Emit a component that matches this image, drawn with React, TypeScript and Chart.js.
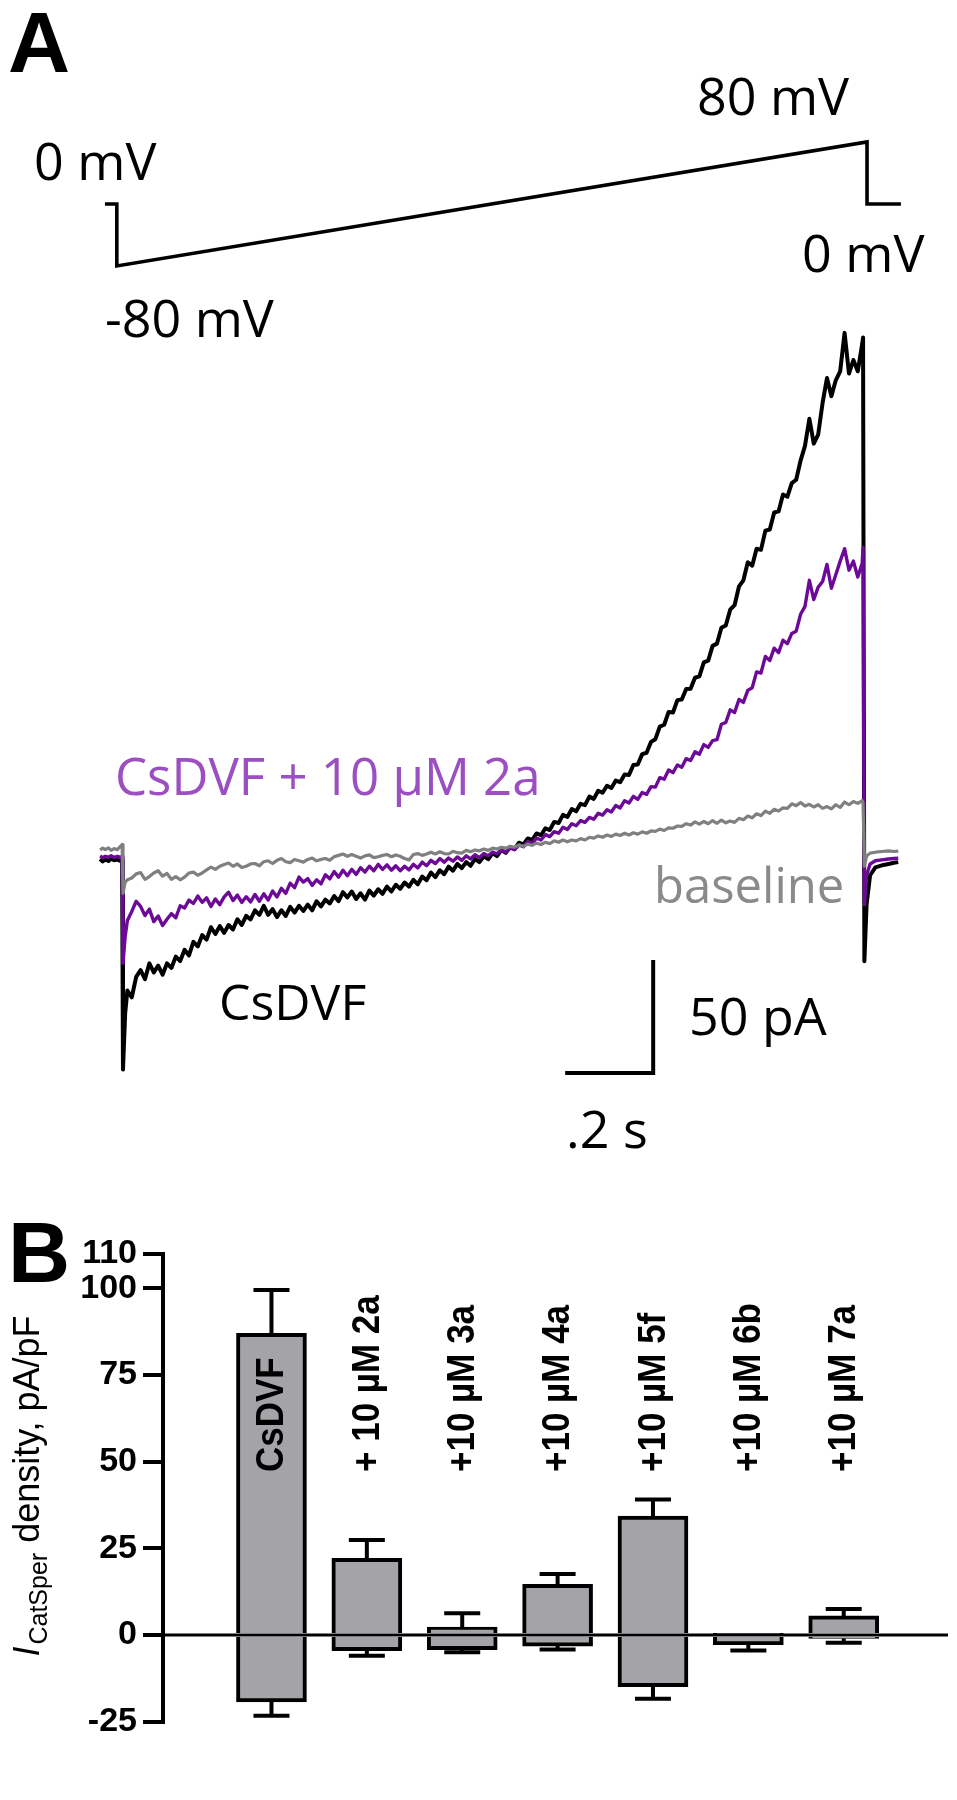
import React, { useEffect, useRef } from "react";
import { Chart, registerables } from "chart.js";
Chart.register(...registerables);

// ---------------- Panel A data (time in ms, current in pA, voltage in mV) ----------------
const protocolTimes = [-41, -14, -14, 1691, 1691, 1768];
const protocolMv = [0, 0, -80, 80, 0, 0];

const preTimes = [-52, -46, -40, -33, -27, -20, -13, -7, -2];
const blackPre = [-1.8, -2.9, -2.0, -2.7, -1.6, -2.4, -2.0, -2.6, -2.2];
const purplePre = [-0.5, -1.2, -0.6, -1.0, -0.4, -1.1, -0.7, -1.0, -0.8];
const greyPre = [2.2, 3.0, 2.4, 3.1, 2.0, 2.8, 2.3, 3.6, 4.6];

const spikeTimes = [0, 5];
const blackSpike = [-95, -70];
const purpleSpike = [-48, -36];
const greySpike = [-17, -12];

const rampTimes = [
  10, 20, 30, 40, 50, 60, 70, 80, 90, 100,
  110, 120, 130, 140, 150, 160, 170, 180, 190, 200,
  210, 220, 230, 240, 250, 260, 270, 280, 290, 300,
  310, 320, 330, 340, 350, 360, 370, 380, 390, 400,
  410, 420, 430, 440, 450, 460, 470, 480, 490, 500,
  510, 520, 530, 540, 550, 560, 570, 580, 590, 600,
  610, 620, 630, 640, 650, 660, 670, 680, 690, 700,
  710, 720, 730, 740, 750, 760, 770, 780, 790, 800,
  810, 820, 830, 840, 850, 860, 870, 880, 890, 900,
  910, 920, 930, 940, 950, 960, 970, 980, 990, 1000,
  1010, 1020, 1030, 1040, 1050, 1060, 1070, 1080, 1090, 1100,
  1110, 1120, 1130, 1140, 1150, 1160, 1170, 1180, 1190, 1200,
  1210, 1220, 1230, 1240, 1250, 1260, 1270, 1280, 1290, 1300,
  1310, 1320, 1330, 1340, 1350, 1360, 1370, 1380, 1390, 1400,
  1410, 1420, 1430, 1440, 1450, 1460, 1470, 1480, 1490, 1500,
  1510, 1520, 1530, 1540, 1550, 1560, 1570, 1580, 1590, 1600,
  1610, 1620, 1630, 1640, 1650, 1660, 1670, 1680,
];
const blackRamp = [
  -60, -63, -54, -51, -55, -48, -52, -49, -53, -48,
  -50, -45, -47, -42, -44.5, -38.5, -40.5, -35.5, -37.5, -32,
  -35, -31.5, -34.5, -31, -33, -28.5, -31, -27, -28.5, -24.5,
  -26.5, -22.5, -26.5, -24, -27.5, -24.5, -27, -23, -25.5, -22.5,
  -24.8, -22, -24.5, -20.5, -22.8, -19.8, -21.5, -18.2, -20.5, -16.5,
  -18.8, -16.2, -19.5, -17.0, -19.8, -15.8, -18.0, -15.2, -17.2, -14.0,
  -16.2, -13.2, -15.0, -12.2, -14.0, -11.0, -13.0, -9.6, -11.2, -7.8,
  -9.8, -6.8, -8.5, -5.2, -7.0, -4.0, -5.8, -3.2, -4.8, -1.8,
  -3.2, -0.6, -1.9, 0.8, -0.5, 2.1, 0.9, 3.4, 2.6, 5.4,
  4.6, 7.3, 6.6, 9.5, 8.7, 11.8, 11.0, 14.6, 14.1, 17.7,
  16.8, 20.3, 19.3, 22.6, 22.0, 25.8, 24.8, 28.4, 27.5, 30.6,
  29.6, 32.9, 32.2, 35.6, 35.4, 39.8, 40.0, 44.6, 45.2, 50.0,
  51.2, 56.8, 57.6, 63.2, 63.0, 68.5, 68.8, 73.4, 73.5, 78.4,
  79.0, 85.2, 86.0, 92.5, 93.5, 100.5, 101.5, 108.5, 110.5, 118.8,
  121.5, 129.5, 128.0, 135.5, 135.0, 143.5, 144.0, 151.5, 152.0, 159.5,
  158.5, 164.5, 166.0, 174.5, 181.0, 193.0, 182.0, 186.0, 200.0, 211.0,
  203.0, 210.0, 214.0, 231.0, 213.0, 219.0, 214.0, 226.0,
];
const purpleRamp = [
  -29.0, -25.0, -20.5, -22.8, -26.8, -24.0, -29.5, -27.0, -31.2, -28.5,
  -26.0, -27.8, -22.5, -23.5, -20.0, -21.5, -18.2, -21.0, -19.0, -22.8,
  -19.5, -22.0, -18.6, -16.5, -20.2, -17.8, -21.0, -18.5, -20.8, -17.5,
  -20.5, -17.2, -20.0, -16.0, -18.6, -14.8, -17.0, -12.5, -14.5, -9.8,
  -12.0, -10.5, -13.5, -11.0, -12.8, -8.8, -10.6, -7.4, -9.8, -6.8,
  -9.2, -6.4, -8.6, -5.6, -7.6, -5.0, -7.0, -4.2, -6.4, -4.4,
  -6.8, -4.8, -7.0, -5.0, -6.6, -4.2, -5.8, -3.2, -4.8, -2.4,
  -3.8, -1.6, -3.2, -1.4, -2.8, -0.9, -2.4, -0.4, -1.8, 0.1,
  -1.2, 0.6, -0.4, 1.3, 0.5, 2.2, 1.2, 3.1, 2.3, 4.4,
  3.6, 5.9, 5.0, 7.5, 6.6, 9.0, 8.1, 10.3, 9.6, 12.2,
  11.2, 13.8, 12.9, 15.2, 14.4, 16.6, 15.8, 18.4, 17.6, 20.0,
  19.0, 21.9, 20.8, 24.0, 23.0, 25.9, 24.6, 27.6, 26.8, 30.2,
  30.0, 34.2, 33.5, 37.6, 36.4, 39.8, 38.8, 42.6, 41.8, 45.6,
  44.6, 48.8, 47.6, 50.6, 51.0, 57.8, 58.6, 64.2, 63.0, 68.8,
  67.5, 72.8, 74.0, 81.0, 80.5, 87.8, 86.0, 91.5, 89.5, 95.0,
  93.5, 98.0, 99.0, 106.5, 110.0, 121.5, 113.0, 118.5, 121.0, 128.5,
  118.0, 124.0, 130.0, 135.5, 126.0, 130.0, 123.0, 129.0,
];
const greyRamp = [
  -11.0, -10.2, -8.4, -7.8, -10.8, -9.6, -8.0, -7.0, -9.4, -8.2,
  -10.8, -9.6, -11.0, -9.8, -8.0, -7.6, -9.0, -8.0, -6.6, -5.4,
  -6.4, -5.0, -4.2, -3.6, -5.0, -4.0, -5.6, -5.0, -4.0, -3.8,
  -4.8, -3.0, -2.6, -3.8, -2.4, -1.6, -3.0, -3.4, -2.0, -2.6,
  -3.2, -2.0, -1.4, -2.6, -2.0, -1.6, -2.4, -0.8, -0.2, 0.4,
  -0.6, 0.2, -0.6, -1.4, -0.4, 0.0, -1.2, -0.8, -0.2, 0.2,
  -0.8, 0.0, -0.6, -1.6, -2.2, 0.2, 0.6, -0.2, 0.4, 1.2,
  0.4, 1.4, 0.6, 0.4, 1.6, 1.0, 0.8, 2.0, 1.4, 2.2,
  1.8, 2.6, 2.0, 3.0, 2.6, 3.4, 3.0, 3.8, 3.4, 4.4,
  3.8, 4.8, 4.2, 5.2, 4.6, 5.6, 5.0, 6.2, 5.6, 6.6,
  5.8, 6.6, 6.2, 7.2, 6.6, 7.8, 7.4, 8.4, 7.8, 8.8,
  8.2, 9.2, 8.6, 9.6, 8.8, 9.8, 9.2, 10.2, 9.6, 10.6,
  10.4, 11.4, 10.8, 12.0, 11.8, 12.8, 12.6, 13.8, 13.2, 14.6,
  13.6, 14.8, 13.8, 15.2, 14.0, 15.4, 14.2, 15.0, 14.4, 16.2,
  15.6, 17.2, 16.4, 18.2, 17.4, 19.4, 18.4, 20.2, 19.4, 20.8,
  20.6, 22.6, 21.8, 23.2, 21.6, 22.4, 21.2, 22.2, 20.6, 21.4,
  20.4, 22.2, 21.0, 23.4, 22.2, 23.6, 22.8, 24.0,
];

const postTimes = [1682, 1685, 1690, 1698, 1710, 1725, 1740, 1752, 1762];
const blackPost = [229, -47, -22, -9, -5.5, -4.6, -4.0, -3.5, -3.2];
const purplePost = [136, -22, -9, -4, -2.6, -2.2, -1.8, -1.6, -1.4];
const greyPost = [23, -5, -0.5, 0.8, 1.2, 1.5, 1.8, 1.5, 1.7];

// scale bar sizes
const SCALE_BAR_MS = 200;
const SCALE_BAR_PA = 50;

// ---------------- Panel B data ----------------
const conditions = ["CsDVF", "+ 10 µM 2a", "+10 µM 3a", "+10 µM 4a", "+10 µM 5f", "+10 µM 6b", "+10 µM 7a"];
const outwardMean = [87, 22.1, 2.3, 14.6, 34.3, 0.4, 5.5];
const outwardSem = [12.5, 5.3, 4.0, 3.0, 4.8, 0, 2.0];
const inwardMean = [-19.3, -4.5, -4.2, -3.2, -14.9, -2.8, -1.0];
const inwardSem = [4.0, 1.5, 0.8, 1.0, 3.5, 1.7, 1.2];
const yTicks = [-25, 0, 25, 50, 75, 100, 110];
const LABEL_START = 47;

// ---------------- styles ----------------
const PURPLE = "#6c0a97";
const PURPLE_TEXT = "#9b4fc0";
const GREY = "#808080";
const GREY_TEXT = "#8a8a8a";
const BAR_FILL = "#a3a3a8";

const CANVAS_W = 957;
const A_H = 1200;
const B_H = 600;

function pts(times: number[], vals: number[]) {
  return times.map((t, i) => ({ x: t, y: vals[i] }));
}

function trace(pre: number[], spike: number[], ramp: number[], post: number[]) {
  return [...pts(preTimes, pre), ...pts(spikeTimes, spike), ...pts(rampTimes, ramp), ...pts(postTimes, post)];
}

export default function App() {
  const refA = useRef<HTMLCanvasElement | null>(null);
  const refB = useRef<HTMLCanvasElement | null>(null);

  useEffect(() => {
    const textPluginA = {
      id: "panelAText",
      afterDraw(chart: any) {
        const ctx = chart.ctx;
        ctx.save();
        ctx.textAlign = "left";
        ctx.textBaseline = "alphabetic";
        ctx.fillStyle = "#000";
        ctx.font = 'bold 86px "Liberation Sans"';
        ctx.fillText("A", 8, 72);
        ctx.font = '52px "Open Sans"';
        ctx.fillText("0 mV", 34, 180);
        ctx.fillText("-80 mV", 105, 337);
        ctx.fillText("80 mV", 697, 115);
        ctx.fillText("0 mV", 802, 272);
        ctx.font = '51px "Open Sans"';
        ctx.fillStyle = PURPLE_TEXT;
        ctx.fillText("CsDVF + 10 µM 2a", 115, 795);
        ctx.fillStyle = "#000";
        ctx.font = '50px "Open Sans"';
        ctx.fillText("CsDVF", 219, 1020);
        ctx.fillStyle = GREY_TEXT;
        ctx.font = '49px "Open Sans"';
        ctx.fillText("baseline", 654, 903);
        ctx.fillStyle = "#000";
        ctx.font = '52px "Open Sans"';
        ctx.fillText("50 pA", 689, 1035);
        ctx.fillText(".2 s", 566, 1148);

        const xs = chart.scales.x;
        const ys = chart.scales.y;
        const cornerT = 1205;
        const cornerI = -96.5;
        const cx = xs.getPixelForValue(cornerT);
        const cy = ys.getPixelForValue(cornerI);
        const x0 = xs.getPixelForValue(cornerT - SCALE_BAR_MS);
        const y1 = ys.getPixelForValue(cornerI + SCALE_BAR_PA);
        ctx.strokeStyle = "#000";
        ctx.lineWidth = 4;
        ctx.lineJoin = "miter";
        ctx.beginPath();
        ctx.moveTo(x0, cy);
        ctx.lineTo(cx, cy);
        ctx.lineTo(cx, y1);
        ctx.stroke();
        ctx.restore();
      },
    };

    const chartA = new Chart(refA.current as HTMLCanvasElement, {
      type: "line",
      data: {
        datasets: [
          {
            label: "Voltage protocol",
            data: pts(protocolTimes, protocolMv),
            yAxisID: "yv",
            borderColor: "#000",
            borderWidth: 3.6,
            borderJoinStyle: "miter",
          },
          {
            label: "baseline",
            data: trace(greyPre, greySpike, greyRamp, greyPost),
            yAxisID: "y",
            borderColor: GREY,
            borderWidth: 3.2,
          },
          {
            label: "CsDVF + 10 µM 2a",
            data: trace(purplePre, purpleSpike, purpleRamp, purplePost),
            yAxisID: "y",
            borderColor: PURPLE,
            borderWidth: 3.4,
          },
          {
            label: "CsDVF",
            data: trace(blackPre, blackSpike, blackRamp, blackPost),
            yAxisID: "y",
            borderColor: "#000",
            borderWidth: 4,
          },
        ],
      },
      options: {
        responsive: false,
        animation: false,
        devicePixelRatio: 1,
        layout: { padding: 0 },
        elements: {
          point: { radius: 0, hoverRadius: 0 },
          line: { tension: 0, borderJoinStyle: "round", borderCapStyle: "butt" },
        },
        plugins: { legend: { display: false }, tooltip: { enabled: false } },
        scales: {
          x: { type: "linear", display: false, min: -279.5, max: 1895.5 },
          y: { type: "linear", display: false, min: -152.7, max: 378.3 },
          yv: { type: "linear", display: false, min: -1285.2, max: 263.2 },
        },
      },
      plugins: [textPluginA],
    } as any);

    const pluginB = {
      id: "panelBExtras",
      afterDatasetsDraw(chart: any) {
        const ctx = chart.ctx;
        const xs = chart.scales.x;
        const ys = chart.scales.y;
        const area = chart.chartArea;
        ctx.save();
        ctx.strokeStyle = "#000";
        ctx.lineWidth = 4;
        ctx.lineCap = "butt";
        conditions.forEach((_, i) => {
          const cx = xs.getPixelForValue(i);
          const half = 18;
          if (outwardSem[i] > 0) {
            const yb = ys.getPixelForValue(outwardMean[i]);
            const yt = ys.getPixelForValue(outwardMean[i] + outwardSem[i]);
            ctx.beginPath();
            ctx.moveTo(cx, yb);
            ctx.lineTo(cx, yt);
            ctx.moveTo(cx - half, yt);
            ctx.lineTo(cx + half, yt);
            ctx.stroke();
          }
          if (inwardSem[i] > 0) {
            const yb = ys.getPixelForValue(inwardMean[i]);
            const yt = ys.getPixelForValue(inwardMean[i] - inwardSem[i]);
            ctx.beginPath();
            ctx.moveTo(cx, yb);
            ctx.lineTo(cx, yt);
            ctx.moveTo(cx - half, yt);
            ctx.lineTo(cx + half, yt);
            ctx.stroke();
          }
        });
        // zero line
        const y0 = ys.getPixelForValue(0);
        ctx.lineWidth = 3;
        ctx.beginPath();
        ctx.moveTo(area.left, y0);
        ctx.lineTo(area.right, y0);
        ctx.stroke();
        // condition labels (rotated, reading upward)
        ctx.fillStyle = "#000";
        ctx.font = 'bold 35px "Liberation Sans"';
        ctx.textAlign = "left";
        ctx.textBaseline = "middle";
        conditions.forEach((lab, i) => {
          ctx.save();
          ctx.translate(xs.getPixelForValue(i), ys.getPixelForValue(LABEL_START));
          ctx.rotate(-Math.PI / 2);
          ctx.scale(1, 1.1);
          ctx.fillText(lab, 0, 1);
          ctx.restore();
        });
        ctx.restore();
      },
      afterDraw(chart: any) {
        const ctx = chart.ctx;
        ctx.save();
        ctx.fillStyle = "#000";
        ctx.textBaseline = "alphabetic";
        ctx.textAlign = "left";
        ctx.font = 'bold 86px "Liberation Sans"';
        ctx.fillText("B", 8, 82);
        // y title with italic I and subscript
        const f1 = 'italic 36px "Liberation Sans"';
        const f2 = '25px "Liberation Sans"';
        const f3 = '36px "Liberation Sans"';
        const s1 = "I";
        const s2 = "CatSper";
        const s3 = " density, pA/pF";
        ctx.font = f1;
        const w1 = ctx.measureText(s1).width;
        ctx.font = f2;
        const w2 = ctx.measureText(s2).width;
        ctx.font = f3;
        const w3 = ctx.measureText(s3).width;
        ctx.translate(39, 287);
        ctx.rotate(-Math.PI / 2);
        let x = -(w1 + w2 + w3) / 2;
        ctx.font = f1;
        ctx.fillText(s1, x, 0);
        x += w1 + 2;
        ctx.font = f2;
        ctx.fillText(s2, x, 8);
        x += w2;
        ctx.font = f3;
        ctx.fillText(s3, x, 0);
        ctx.restore();
      },
    };

    const barCommon = {
      backgroundColor: BAR_FILL,
      borderColor: "#000",
      borderWidth: 4,
      borderSkipped: "start",
      barThickness: 70,
      grouped: false,
    };

    const chartB = new Chart(refB.current as HTMLCanvasElement, {
      type: "bar",
      data: {
        datasets: [
          { label: "outward", data: pts(conditions.map((_, i) => i), outwardMean), ...barCommon },
          { label: "inward", data: pts(conditions.map((_, i) => i), inwardMean), ...barCommon },
        ],
      },
      options: {
        responsive: false,
        animation: false,
        devicePixelRatio: 1,
        layout: { padding: { left: 0, right: 9, top: 53.5, bottom: 78.3 } },
        plugins: { legend: { display: false }, tooltip: { enabled: false } },
        scales: {
          x: { type: "linear", display: false, min: -0.68, max: 6.636 },
          y: {
            type: "linear",
            min: -25,
            max: 110,
            afterBuildTicks: (axis: any) => {
              axis.ticks = yTicks.map((v) => ({ value: v }));
            },
            afterFit: (axis: any) => {
              axis.width = 163;
            },
            ticks: {
              autoSkip: false,
              color: "#000",
              padding: 6,
              font: { family: "'Liberation Sans', Arial, sans-serif", weight: "bold", size: 34 },
            },
            grid: {
              drawOnChartArea: false,
              drawTicks: true,
              tickLength: 20,
              lineWidth: 4,
              color: "#000",
            },
            border: { display: true, width: 4, color: "#000" },
          },
        },
      },
      plugins: [pluginB],
    } as any);

    return () => {
      chartA.destroy();
      chartB.destroy();
    };
  }, []);

  return (
    <div style={{ position: "absolute", left: 0, top: 0, width: CANVAS_W, height: A_H + B_H, background: "#fff" }}>
      <canvas
        ref={refA}
        width={CANVAS_W}
        height={A_H}
        style={{ position: "absolute", left: 0, top: 0, width: CANVAS_W, height: A_H }}
      />
      <canvas
        ref={refB}
        width={CANVAS_W}
        height={B_H}
        style={{ position: "absolute", left: 0, top: A_H, width: CANVAS_W, height: B_H }}
      />
    </div>
  );
}
